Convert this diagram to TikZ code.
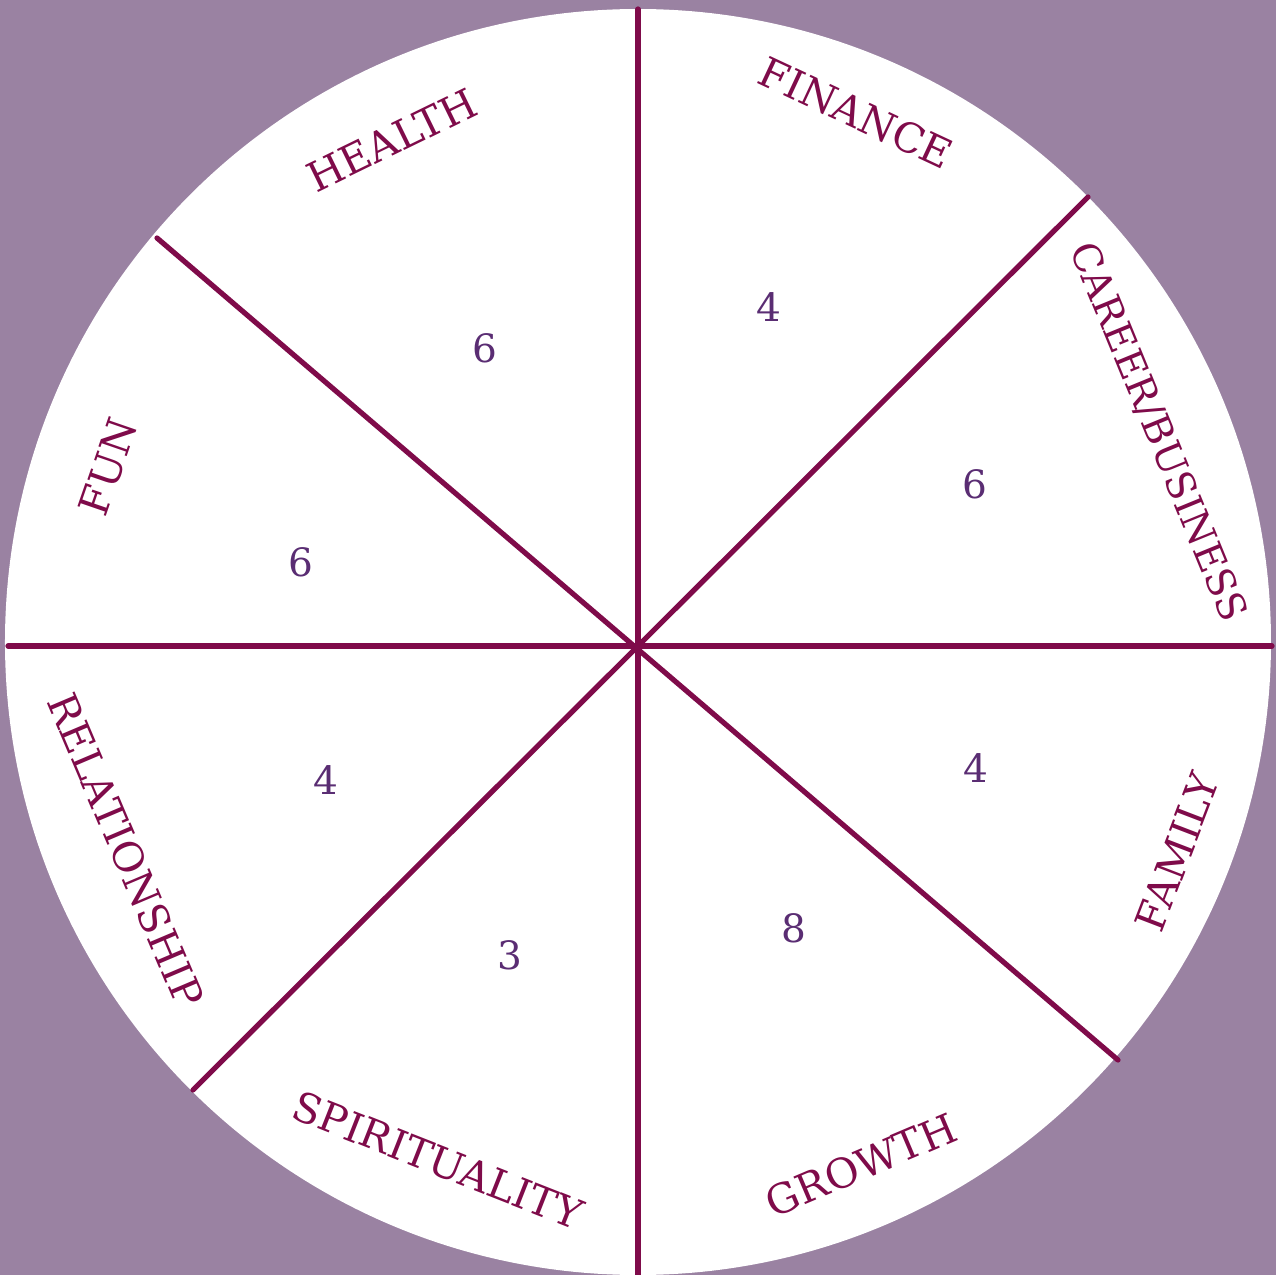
\documentclass[tikz,border=0pt]{standalone}
\usepackage{fontspec}
\setmainfont{DejaVu Serif}
\usepackage{tikz}
\definecolor{bgpurple}{HTML}{9A82A2}
\definecolor{wine}{HTML}{7F0B4A}
\definecolor{score}{HTML}{5A2D73}

\begin{document}
\begin{tikzpicture}[x=0.5pt, y=0.5pt,
    spoke/.style={draw=wine, line width=2.6pt, line cap=round},
    area/.style={text=wine, font=\fontsize{20.5}{24}\selectfont, inner sep=0pt},
    scorelabel/.style={text=score, font=\fontsize{19.5}{22}\selectfont, inner sep=0pt}]
  % background and wheel
  \fill[bgpurple] (-638,-630) rectangle (638,645);
  \useasboundingbox (-638,-630) rectangle (638,645);
  \fill[white] (0,3) circle (633);

  % spokes
  \coordinate (c) at (0,0);
  \coordinate (top) at (0,636);
  \coordinate (bot) at (0,-632);
  \coordinate (lft) at (-630,-1);
  \coordinate (rgt) at (634,-1);
  \coordinate (ul) at (-481,407);
  \coordinate (lr) at (480,-415);
  \coordinate (ll) at (-445,-445);
  \coordinate (ur) at (450,448);
  \draw[spoke] (top) -- (bot);
  \draw[spoke] (lft) -- (rgt);
  \draw[spoke] (ul) -- (lr);
  \draw[spoke] (ll) -- (ur);

  % area names
  \node[area, rotate=26] (health) at (-246,505) {HEALTH};
  \node[area, rotate=-25] (finance) at (218,532) {FINANCE};
  \node[area, rotate=-67.7, font=\fontsize{19.5}{24}\selectfont] (career) at (520,213) {CAREER/BUSINESS};
  \node[area, rotate=69] (family) at (539,-207) {FAMILY};
  \node[area, rotate=23] (growth) at (223,-520) {GROWTH};
  \node[area, rotate=-21.5] (spirit) at (-200,-515) {SPIRITUALITY};
  \node[area, rotate=-67] (relation) at (-512,-205) {RELATIONSHIP};
  \node[area, rotate=71] (fun) at (-530,178) {FUN};

  % scores
  \node[scorelabel] (s-health) at (-153,297) {6};
  \node[scorelabel] (s-finance) at (131,338) {4};
  \node[scorelabel] (s-career) at (337,161) {6};
  \node[scorelabel] (s-family) at (338,-123) {4};
  \node[scorelabel] (s-growth) at (156,-283) {8};
  \node[scorelabel] (s-spirit) at (-128,-310) {3};
  \node[scorelabel] (s-relation) at (-312,-135) {4};
  \node[scorelabel] (s-fun) at (-337,83) {6};
\end{tikzpicture}
\end{document}
